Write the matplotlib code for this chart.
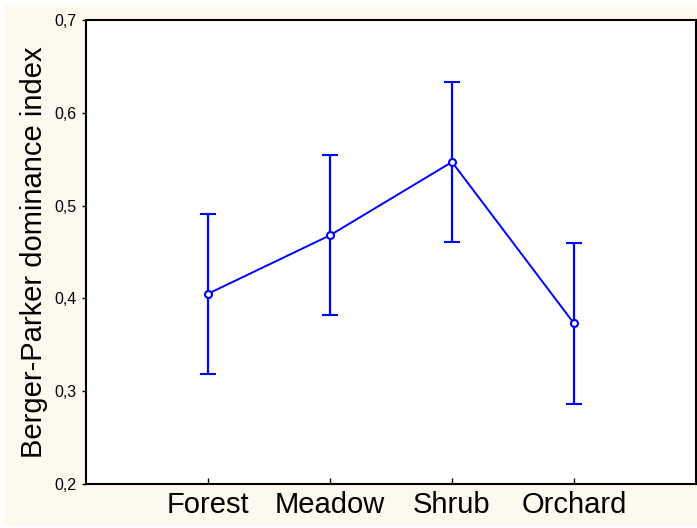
import matplotlib
matplotlib.use("Agg")
import matplotlib.pyplot as plt
from matplotlib.patches import Rectangle

# Berger-Parker dominance index by habitat (mean and error-bar half-width)
habitats = ["Forest", "Meadow", "Shrub", "Orchard"]
means = [0.405, 0.468, 0.547, 0.373]
errors = [0.086, 0.086, 0.086, 0.087]
y_ticks = [0.2, 0.3, 0.4, 0.5, 0.6, 0.7]
y_tick_labels = ["0,2", "0,3", "0,4", "0,5", "0,6", "0,7"]

plt.rcParams["font.family"] = ["Liberation Sans", "DejaVu Sans"]

W, H = 697, 528
fig = plt.figure(figsize=(W / 100, H / 100), dpi=100, facecolor="white")

# cream backdrop behind the plot frame
fig.patches.append(Rectangle((4 / W, 2 / H), 1 - 4 / W, (522 - 2) / H,
                             transform=fig.transFigure, facecolor="#FDF9EE",
                             edgecolor="none", zorder=-10))

ax = fig.add_axes([86 / W, 44 / H, (696 - 86) / W, (484 - 20) / H])
ax.set_zorder(1)
ax.set_facecolor("white")

x = list(range(1, len(habitats) + 1))
ax.errorbar(x, means, yerr=errors, color="#0000FF", lw=1.4, elinewidth=1.6,
            capsize=6, capthick=1.6, marker="o", markersize=5,
            markerfacecolor="white", markeredgecolor="#0000FF",
            markeredgewidth=1.5)

ax.set_xlim(0, 5)
ax.set_ylim(0.2, 0.7)
ax.set_xticks(x)
ax.set_xticklabels(habitats, fontsize=21)
ax.set_yticks(y_ticks)
ax.set_yticklabels(y_tick_labels, fontsize=11.5)
ax.tick_params(axis="x", direction="in", length=4, width=1, pad=5)
ax.tick_params(axis="y", direction="out", length=3, width=1, pad=4)
for s in ax.spines.values():
    s.set_linewidth(1.5)
    s.set_color("black")

ax.set_ylabel("Berger-Parker dominance index", fontsize=21, labelpad=4)

fig.savefig("out.png", dpi=100, facecolor=fig.get_facecolor())
